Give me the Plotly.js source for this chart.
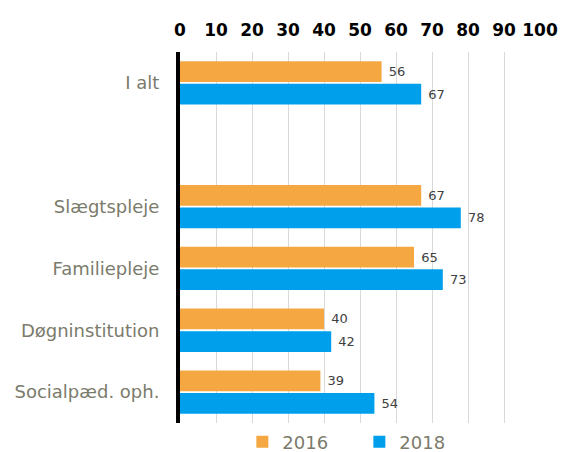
<!DOCTYPE html>
<html>
<head>
<meta charset="utf-8">
<script src="https://cdn.plot.ly/plotly-3.0.1.min.js"></script>
<style>html,body{margin:0;padding:0;background:#fff;}</style>
</head>
<body>
<div id="chart" style="width:561px;height:452px;"></div>
<script>
var categories = ["I alt", " ", "Slægtspleje", "Familiepleje", "Døgninstitution", "Socialpæd. oph."];
var values2016 = [56, null, 67, 65, 40, 39];
var values2018 = [67, null, 78, 73, 42, 54];
var seriesNames = ["2016", "2018"];
var xTicks = [0, 10, 20, 30, 40, 50, 60, 70, 80, 90, 100];

var labelFont = {family: "DejaVu Sans, Verdana, sans-serif", size: 13, color: "#404040"};

var traces = [
  {type: "bar", orientation: "h", name: seriesNames[0], y: categories, x: values2016,
   marker: {color: "#F5A742"}, texttemplate: "\u00a0%{x}", textposition: "outside",
   cliponaxis: false, textfont: labelFont, hoverinfo: "x+name"},
  {type: "bar", orientation: "h", name: seriesNames[1], y: categories, x: values2018,
   marker: {color: "#009FEC"}, texttemplate: "\u00a0%{x}", textposition: "outside",
   cliponaxis: false, textfont: labelFont, hoverinfo: "x+name"}
];

var layout = {
  width: 561, height: 452,
  margin: {l: 180, r: 21, t: 52, b: 29},
  paper_bgcolor: "#fff", plot_bgcolor: "#fff",
  barmode: "group", bargap: 0.27, bargroupgap: 0.08,
  showlegend: true,
  legend: {orientation: "h", xref: "container", yref: "container", x: 0.432, xanchor: "left",
           y: 0.022, yanchor: "middle",
           font: {family: "DejaVu Sans, Verdana, sans-serif", size: 18, color: "#7B7B6B"},
           traceorder: "normal", itemwidth: 30, entrywidth: 72, entrywidthmode: "pixels"},
  xaxis: {side: "top", range: [0, 100], tickvals: xTicks, ticktext: xTicks.map(String),
          showgrid: true, gridcolor: "#D9D9D9", gridwidth: 1, zeroline: false, showline: false,
          ticks: "", ticklabelstandoff: 12,
          tickfont: {family: "DejaVu Sans, Verdana, sans-serif", size: 17, color: "#000", weight: "bold"},
          fixedrange: true},
  yaxis: {type: "category", categoryorder: "array", categoryarray: categories, autorange: "reversed",
          showline: true, linecolor: "#000", linewidth: 4, showgrid: false, zeroline: false,
          ticks: "", ticklabelstandoff: 13,
          tickfont: {family: "DejaVu Sans, Verdana, sans-serif", size: 18, color: "#7B7B6B"},
          fixedrange: true}
};

Plotly.newPlot("chart", traces, layout, {displayModeBar: false, staticPlot: true});
</script>
</body>
</html>
